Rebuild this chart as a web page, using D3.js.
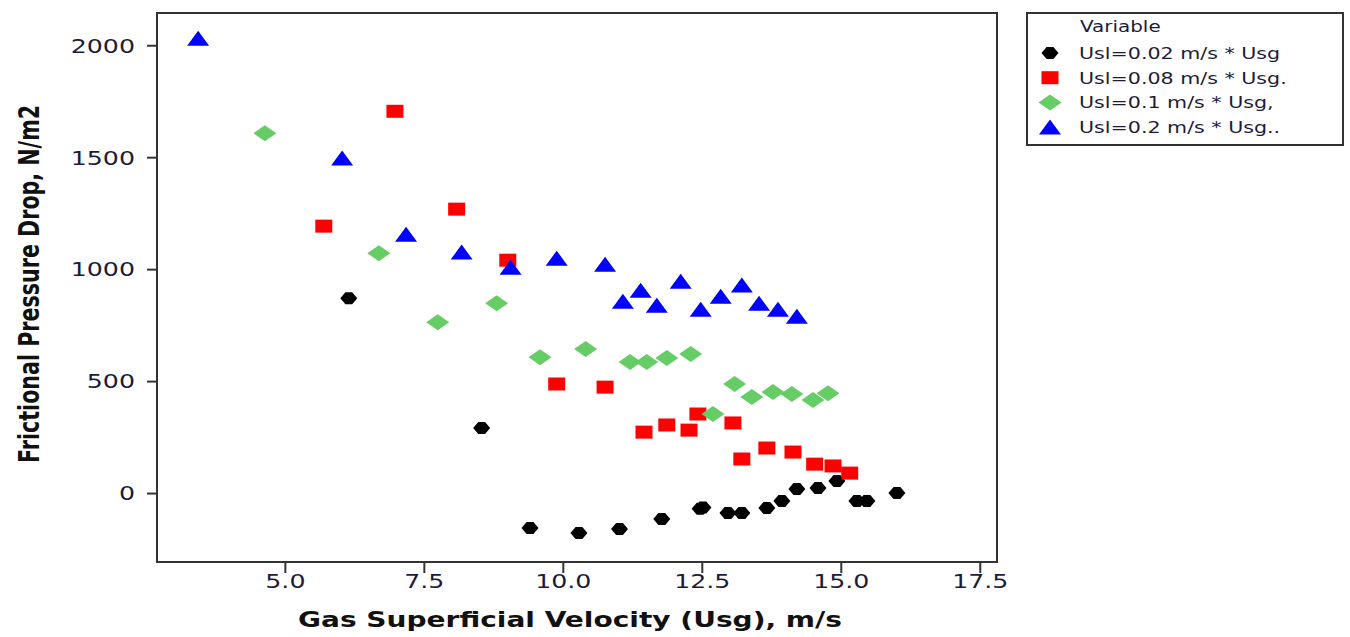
<!DOCTYPE html>
<html>
<head>
<meta charset="utf-8">
<script src="https://cdn.jsdelivr.net/npm/d3@7"></script>
<style>
  html, body { margin: 0; padding: 0; background: #fff; }
  svg { display: block; }
  text { font-family: "DejaVu Sans", Verdana, sans-serif; }
</style>
</head>
<body>
<svg id="chart" width="1350" height="637"></svg>
<script>
// Frictional pressure drop vs gas superficial velocity, four liquid velocities
const seriesNames = ["Usl=0.02 m/s * Usg", "Usl=0.08 m/s * Usg.", "Usl=0.1 m/s * Usg,", "Usl=0.2 m/s * Usg.."];

const usg002 = [6.15, 8.54, 9.41, 10.29, 11.02, 11.78, 12.47, 12.52, 12.97, 13.22, 13.67, 13.94, 14.21, 14.59, 14.93, 15.29, 15.47, 16.01];
const dp002  = [870, 290, -156, -179, -161, -116, -70, -65, -89, -89, -67, -36, 18, 22, 54, -36, -36, 0];

const usg008 = [5.70, 6.98, 8.09, 9.01, 9.89, 10.76, 11.46, 11.87, 12.27, 12.43, 13.06, 13.22, 13.67, 14.14, 14.53, 14.86, 15.16];
const dp008  = [1192, 1705, 1268, 1040, 487, 473, 272, 304, 281, 353, 313, 152, 201, 183, 129, 121, 89];

const usg01 = [4.64, 6.69, 7.75, 8.81, 9.59, 10.41, 11.21, 11.51, 11.87, 12.30, 12.70, 13.09, 13.40, 13.78, 14.12, 14.50, 14.77];
const dp01  = [1607, 1071, 763, 848, 607, 643, 585, 585, 603, 621, 353, 487, 429, 451, 442, 415, 446];

const usg02 = [3.44, 6.03, 7.18, 8.18, 9.06, 9.89, 10.76, 11.08, 11.40, 11.69, 12.12, 12.48, 12.84, 13.22, 13.53, 13.87, 14.21];
const dp02  = [2031, 1496, 1156, 1076, 1009, 1049, 1022, 857, 906, 839, 946, 821, 879, 929, 848, 821, 790];

const xTicks = [5, 7.5, 10, 12.5, 15, 17.5];
const xTickLabels = ["5.0", "7.5", "10.0", "12.5", "15.0", "17.5"];
const yTicks = [0, 500, 1000, 1500, 2000];
const yTickLabels = ["0", "500", "1000", "1500", "2000"];

const xTitle = "Gas Superficial Velocity (Usg), m/s";
const yTitle = "Frictional Pressure Drop, N/m2";
const legendTitle = "Variable";

// ---- layout ----
const SX = 1.33; // horizontal glyph stretch used for all text
const plot = { left: 157, right: 997, top: 13, bottom: 562 };

const svg = d3.select("#chart");

const x = d3.scaleLinear().domain([2.7, 17.81]).range([plot.left, plot.right]);
const y = d3.scaleLinear().domain([-308, 2144]).range([plot.bottom, plot.top]);

// marker shapes (width, height) drawn as paths centred on 0,0
function hexPath(w, h) {
  const a = w / 2, b = h / 2, c = w * 0.2;
  return `M${-a},0L${-c},${-b}L${c},${-b}L${a},0L${c},${b}L${-c},${b}Z`;
}
function rectPath(w, h) {
  return `M${-w / 2},${-h / 2}h${w}v${h}h${-w}Z`;
}
function diamondPath(w, h) {
  return `M${-w / 2},0L0,${-h / 2}L${w / 2},0L0,${h / 2}Z`;
}
function trianglePath(w, h) {
  return `M0,${-h / 2}L${w / 2},${h / 2}L${-w / 2},${h / 2}Z`;
}

const series = [
  { name: seriesNames[0], xs: usg002, ys: dp002, color: "#000000", path: hexPath(17, 12) },
  { name: seriesNames[1], xs: usg008, ys: dp008, color: "#ff0000", path: rectPath(17, 13) },
  { name: seriesNames[2], xs: usg01,  ys: dp01,  color: "#66cc66", path: diamondPath(23, 16) },
  { name: seriesNames[3], xs: usg02,  ys: dp02,  color: "#0000ff", path: trianglePath(22, 15) }
];

// ---- axes ----
const xAxis = d3.axisBottom(x)
  .tickValues(xTicks)
  .tickFormat((d, i) => xTickLabels[i])
  .tickSize(11)
  .tickSizeOuter(0);

const yAxis = d3.axisLeft(y)
  .tickValues(yTicks)
  .tickFormat((d, i) => yTickLabels[i])
  .tickSize(10)
  .tickSizeOuter(0);

const gx = svg.append("g")
  .attr("transform", `translate(0,${plot.bottom})`)
  .call(xAxis);
gx.select(".domain").remove();
gx.selectAll(".tick line").attr("stroke", "#333").attr("stroke-width", 2);
gx.selectAll(".tick text")
  .attr("x", 0).attr("y", 0).attr("dy", null)
  .attr("transform", "translate(0,26) scale(" + SX + ",1)")
  .attr("font-size", 19)
  .attr("font-family", "DejaVu Sans, sans-serif")
  .attr("fill", "#1c1c3a");

const gy = svg.append("g")
  .attr("transform", `translate(${plot.left},0)`)
  .call(yAxis);
gy.select(".domain").remove();
gy.selectAll(".tick line").attr("stroke", "#333").attr("stroke-width", 2);
gy.selectAll(".tick text")
  .attr("x", 0).attr("dy", "0.36em")
  .attr("transform", "translate(-22,0) scale(" + SX + ",1)")
  .attr("font-size", 19)
  .attr("font-family", "DejaVu Sans, sans-serif")
  .attr("fill", "#1c1c3a");

// plot frame
svg.append("rect")
  .attr("x", plot.left).attr("y", plot.top)
  .attr("width", plot.right - plot.left).attr("height", plot.bottom - plot.top)
  .attr("fill", "none").attr("stroke", "#333").attr("stroke-width", 2);

// ---- points ----
const pts = svg.append("g");
series.forEach(s => {
  pts.append("g").selectAll("path")
    .data(s.xs.map((v, i) => [v, s.ys[i]]))
    .join("path")
    .attr("d", s.path)
    .attr("fill", s.color)
    .attr("transform", d => `translate(${x(d[0])},${y(d[1])})`);
});

// ---- axis titles ----
svg.append("text")
  .attr("x", 570)
  .attr("y", 627)
  .attr("text-anchor", "middle")
  .attr("font-size", 21)
  .attr("font-weight", "bold")
  .attr("textLength", 544)
  .attr("lengthAdjust", "spacingAndGlyphs")
  .attr("fill", "#111")
  .text(xTitle);

svg.append("text")
  .attr("transform", "translate(39,284) scale(" + SX + ",1) rotate(-90)")
  .attr("text-anchor", "middle")
  .attr("font-size", 21)
  .attr("font-weight", "bold")
  .attr("textLength", 358)
  .attr("lengthAdjust", "spacingAndGlyphs")
  .attr("fill", "#111")
  .text(yTitle);

// ---- legend ----
const lg = svg.append("g");
lg.append("rect")
  .attr("x", 1027).attr("y", 13).attr("width", 316).attr("height", 132)
  .attr("fill", "#fff").attr("stroke", "#333").attr("stroke-width", 2);

lg.append("text")
  .attr("transform", "translate(1080,32) scale(" + SX + ",1)")
  .attr("font-size", 15)
  .attr("fill", "#1c1c3a")
  .text(legendTitle);

series.forEach((s, i) => {
  const cy = 53 + i * 24.7;
  lg.append("path")
    .attr("d", s.path)
    .attr("fill", s.color)
    .attr("transform", `translate(1050,${cy})`);
  lg.append("text")
    .attr("transform", `translate(1079,${cy + 6}) scale(${SX},1)`)
    .attr("font-size", 15.5)
    .attr("fill", "#1c1c3a")
    .text(s.name);
});
</script>
</body>
</html>
